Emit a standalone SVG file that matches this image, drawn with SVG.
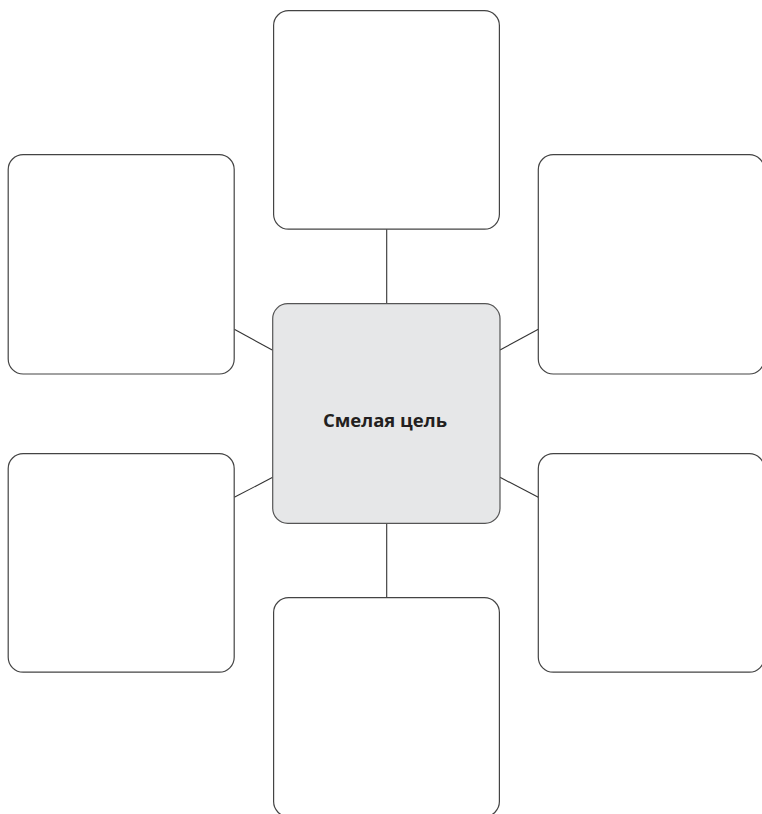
<svg xmlns="http://www.w3.org/2000/svg" width="762" height="814" viewBox="0 0 762 814">
<style>
.box{fill:#ffffff;stroke:#444;stroke-width:1.2}
.center{fill:#e6e7e8;stroke:#555;stroke-width:1.2}
.conn line{stroke:#333;stroke-width:1.1}
.lbl{font-family:"Open Sans","Noto Sans",sans-serif;font-weight:700;font-size:18.5px;fill:#231f20}
</style>
<rect width="762" height="814" fill="#ffffff"/>
<g id="connectors" class="conn">
<line x1="386.7" y1="229" x2="386.7" y2="304"/>
<line x1="386.7" y1="523" x2="386.7" y2="598"/>
<line x1="234.3" y1="329.3" x2="272.7" y2="350.3"/>
<line x1="500" y1="350" x2="538.3" y2="329.3"/>
<line x1="234.3" y1="497.3" x2="272.7" y2="477.3"/>
<line x1="500" y1="477.3" x2="538.3" y2="497.3"/>
</g>
<g id="node-top"><rect class="box" x="273.6" y="10.6" width="225.8" height="218.6" rx="15"/></g>
<g id="node-left-top"><rect class="box" x="8.2" y="154.6" width="226" height="219.4" rx="15"/></g>
<g id="node-right-top"><rect class="box" x="538.3" y="154.6" width="226" height="219.4" rx="15"/></g>
<g id="node-left-bottom"><rect class="box" x="8.2" y="453.6" width="226" height="218.6" rx="15"/></g>
<g id="node-right-bottom"><rect class="box" x="538.3" y="453.6" width="226" height="218.6" rx="15"/></g>
<g id="node-bottom"><rect class="box" x="273.6" y="597.6" width="225.8" height="219" rx="15"/></g>
<g id="node-center">
<rect class="center" x="272.7" y="303.7" width="227.3" height="219.6" rx="15"/>
<text class="lbl" x="385" y="427" text-anchor="middle">Смелая цель</text>
</g>
</svg>
